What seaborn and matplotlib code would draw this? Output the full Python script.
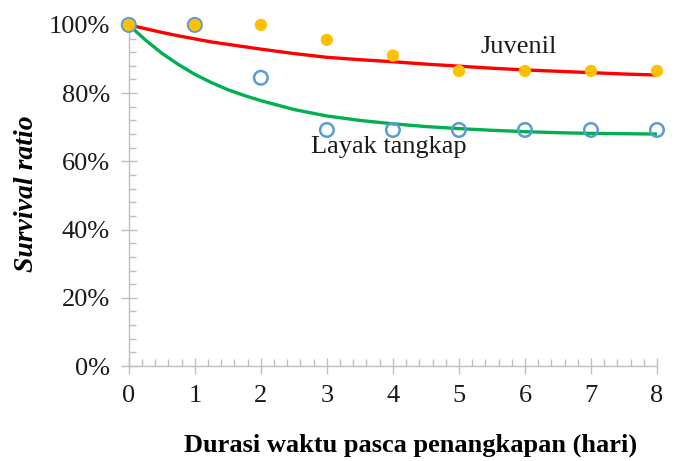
import numpy as np
import pandas as pd
import seaborn as sns
import matplotlib.pyplot as plt
from matplotlib.ticker import MultipleLocator, PercentFormatter

# observed survival (fraction)
days = [0, 1, 2, 3, 4, 5, 6, 7, 8]
juvenil = [1.00, 1.00, 1.00, 0.956, 0.910, 0.865, 0.865, 0.865, 0.865]
layak = [1.00, 1.00, 0.845, 0.692, 0.692, 0.692, 0.692, 0.692, 0.692]

# trend curves
trend_x = [0, 0.25, 0.5, 0.75, 1, 1.25, 1.5, 1.75, 2, 2.5, 3, 3.5, 4,
           4.5, 5, 5.5, 6, 6.5, 7, 7.5, 8]
trend_juvenil = [1.000, 0.989, 0.978, 0.968, 0.959, 0.950, 0.943, 0.936, 0.929,
                 0.916, 0.905, 0.898, 0.892, 0.885, 0.879, 0.873, 0.868,
                 0.864, 0.860, 0.856, 0.853]
trend_layak = [1.000, 0.956, 0.917, 0.884, 0.855, 0.831, 0.810, 0.793, 0.778,
               0.752, 0.733, 0.720, 0.710, 0.702, 0.696, 0.691, 0.687,
               0.684, 0.682, 0.681, 0.680]

sns.set_theme(style="white")
plt.rcParams['font.family'] = ['Liberation Serif', 'DejaVu Serif']

obs = pd.DataFrame({'day': days, 'juv': juvenil, 'lay': layak})
trend = pd.DataFrame({'x': trend_x, 'juv': trend_juvenil, 'lay': trend_layak})

fig = plt.figure(figsize=(6.78, 4.61), dpi=100)
ax = fig.add_axes([0.190, 0.206, 0.779, 0.740])

sns.lineplot(data=trend, x='x', y='juv', color='#FF0000', lw=2.4, ax=ax, zorder=2)
sns.lineplot(data=trend, x='x', y='lay', color='#00B050', lw=2.4, ax=ax, zorder=2)
sns.scatterplot(data=obs, x='day', y='lay', s=95, facecolor='none',
                edgecolor='#5B9BD5', linewidth=1.8, ax=ax, zorder=3, clip_on=False)
sns.scatterplot(data=obs, x='day', y='juv', s=78, color='#FFC000',
                edgecolor='none', ax=ax, zorder=4, clip_on=False)

ax.text(5.9, 0.935, 'Juvenil', fontsize=19, ha='center', va='center', color='#1a1a1a')
ax.text(3.94, 0.642, 'Layak tangkap', fontsize=19, ha='center', va='center', color='#1a1a1a')

ax.set_xlim(0, 8)
ax.set_ylim(0, 1)
ax.xaxis.set_major_locator(MultipleLocator(1))
ax.xaxis.set_minor_locator(MultipleLocator(0.2))
ax.yaxis.set_major_locator(MultipleLocator(0.2))
ax.yaxis.set_minor_locator(MultipleLocator(0.04))
ax.yaxis.set_major_formatter(PercentFormatter(1.0, decimals=0))

for s in ['top', 'right']:
    ax.spines[s].set_visible(False)
for s in ['left', 'bottom']:
    ax.spines[s].set_color('#BFBFBF')
    ax.spines[s].set_linewidth(1.0)

ax.tick_params(which='major', direction='inout', length=11, width=1.0,
               color='#BFBFBF', labelsize=19, labelcolor='#1a1a1a', pad=8,
               left=True, bottom=True)
ax.tick_params(which='minor', direction='in', length=5, width=1.0,
               color='#BFBFBF', left=True, bottom=True)

ax.set_xlabel('')
ax.set_ylabel('')
fig.text(0.039, 0.58, 'Survival ratio', fontsize=20, fontweight='bold', fontstyle='italic',
         rotation=90, ha='center', va='center', color='#000000')
fig.text(0.605, 0.033, 'Durasi waktu pasca penangkapan (hari)', fontsize=19,
         fontweight='bold', ha='center', va='center', color='#000000')

fig.savefig('out.png', dpi=100)
